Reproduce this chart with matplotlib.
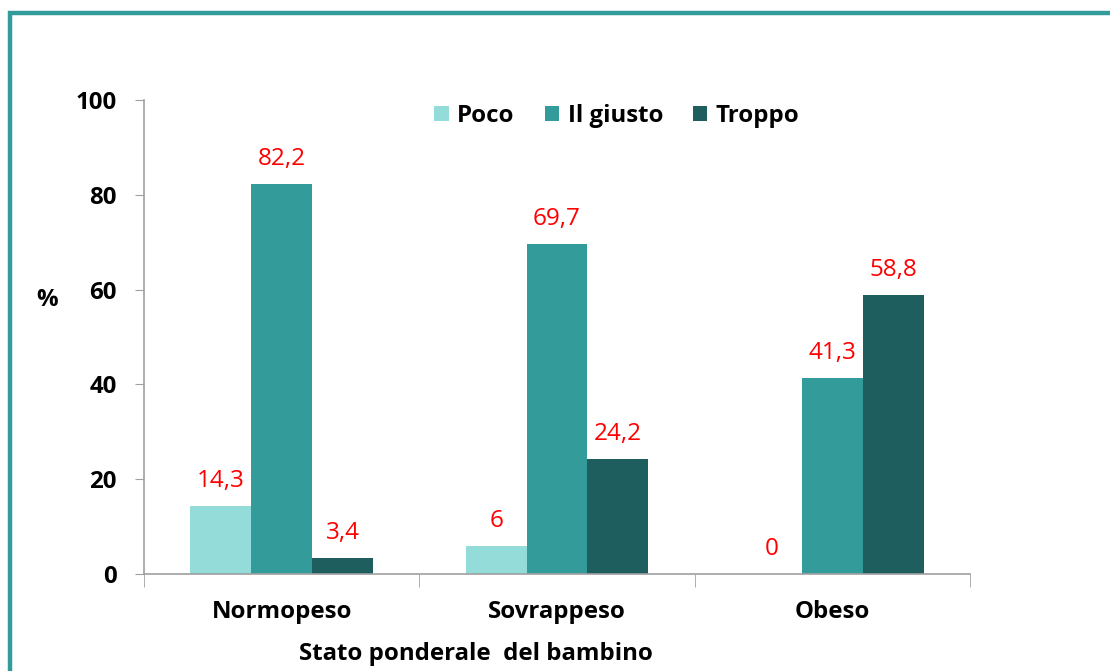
import matplotlib
matplotlib.use("Agg")
import matplotlib.pyplot as plt
from matplotlib.patches import Rectangle
import numpy as np

categories = ["Normopeso", "Sovrappeso", "Obeso"]
series_names = ["Poco", "Il giusto", "Troppo"]
poco = [14.3, 6, 0]
giusto = [82.2, 69.7, 41.3]
troppo = [3.4, 24.2, 58.8]
colors = ["#93DCDA", "#339B99", "#1F5E5E"]
yticks = [0, 20, 40, 60, 80, 100]

plt.rcParams['font.family'] = ['Open Sans', 'DejaVu Sans']
FS = 17.3
LFS = 17.5

fig = plt.figure(figsize=(11.10, 6.71), dpi=100)
ax = fig.add_axes([144/1110, 1-574/671, (970-144)/1110, (574-100)/671])

# border
fig.patches.append(Rectangle((10/1110, -0.1), 1.2, 1-13/671+0.1, transform=fig.transFigure,
                             fill=False, edgecolor="#339B99", linewidth=3.2, zorder=0))

x = np.arange(len(categories))
w = 61/276
for k, (vals, name, c) in enumerate(zip([poco, giusto, troppo], series_names, colors)):
    pos = x + (k-1)*w
    ax.bar(pos, vals, width=w, color=c, label=name, zorder=2)
    for p, v in zip(pos, vals):
        txt = f"{v:g}".replace(".", ",")
        ax.annotate(txt, (p, v), xytext=(0, 25), textcoords="offset pixels",
                    ha="center", va="center", color="red", fontsize=LFS)

ax.set_xlim(-0.5, 2.5)
ax.set_ylim(0, 100)
ax.set_yticks(yticks)
ax.set_yticklabels([str(t) for t in yticks], fontsize=FS, fontweight="bold")
ax.set_xticks(x)
ax.set_xticklabels(categories, fontsize=FS, fontweight="bold")
ax.tick_params(axis="x", length=0, pad=19)
ax.tick_params(axis="y", length=6.5, color="#a0a0a0", pad=13)
ax.set_xticks([-0.5, 0.5, 1.5, 2.5], minor=True)
ax.tick_params(axis="x", which="minor", length=9, color="#a0a0a0")
for s in ["top", "right"]:
    ax.spines[s].set_visible(False)
for s in ["left", "bottom"]:
    ax.spines[s].set_color("#a0a0a0")
    ax.spines[s].set_linewidth(1.2)

fig.text(47/1110, 1-300/671, "%", ha="center", va="center", fontsize=FS, fontweight="bold")
fig.text(476/1110, 1-654/671, "Stato ponderale  del bambino", ha="center", va="center",
         fontsize=FS, fontweight="bold")

leg = ax.legend(loc="center", bbox_to_anchor=((617-144)/826, (574-116)/474), ncol=3, frameon=False,
                prop={"weight": "bold", "size": FS}, handlelength=0.6, handleheight=0.6,
                handletextpad=0.35, columnspacing=1.25)

fig.savefig("out.png", dpi=100)
